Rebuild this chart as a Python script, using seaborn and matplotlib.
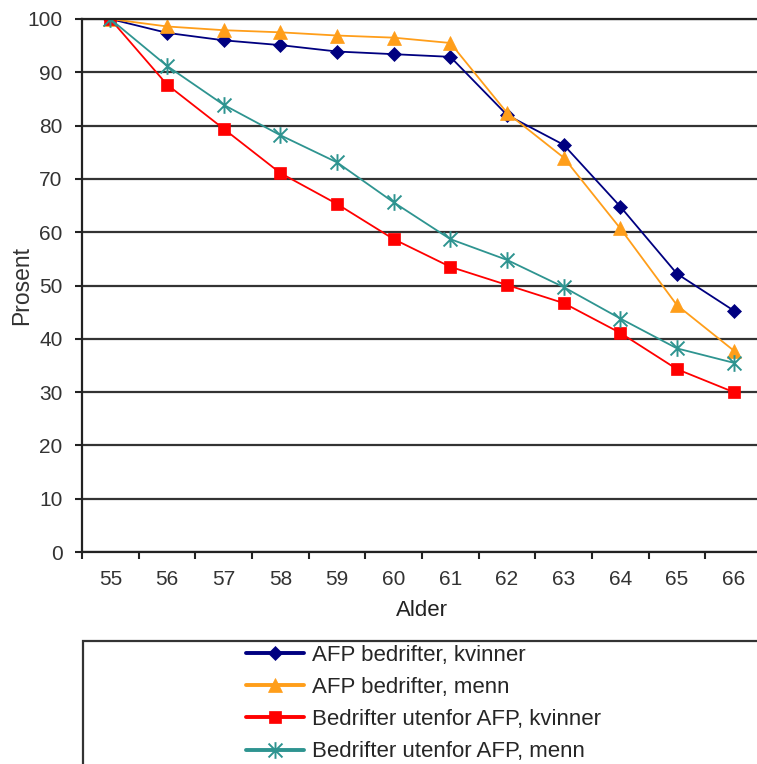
import numpy as np
import matplotlib
matplotlib.use("Agg")
import matplotlib.pyplot as plt
from matplotlib.path import Path
from matplotlib.patches import Rectangle
import seaborn as sns

alder = [55, 56, 57, 58, 59, 60, 61, 62, 63, 64, 65, 66]

afp_kvinner = [100, 97.4, 96.0, 95.1, 93.9, 93.4, 92.9, 82.0, 76.4, 64.8, 52.2, 45.3]
afp_menn = [100, 98.6, 97.9, 97.5, 96.9, 96.5, 95.5, 82.4, 74.0, 60.7, 46.3, 37.8]
utenfor_kvinner = [100, 87.7, 79.4, 71.1, 65.3, 58.7, 53.5, 50.1, 46.7, 41.1, 34.3, 30.0]
utenfor_menn = [100, 91.2, 83.9, 78.2, 73.1, 65.6, 58.7, 54.8, 49.7, 43.8, 38.2, 35.5]

labels = ["AFP bedrifter, kvinner", "AFP bedrifter, menn",
          "Bedrifter utenfor AFP, kvinner", "Bedrifter utenfor AFP, menn"]
series = [afp_kvinner, afp_menn, utenfor_kvinner, utenfor_menn]
colors = ["#000080", "#FF9E1A", "#FF0000", "#2E9490"]

# excel style star: an X with a vertical bar
star = Path([(-1, -1), (1, 1), (-1, 1), (1, -1), (0, -1.2), (0, 1.2)],
            [Path.MOVETO, Path.LINETO, Path.MOVETO, Path.LINETO, Path.MOVETO, Path.LINETO])
markers = ["D", "^", "s", star]
msizes = [7.5, 9.5, 8.5, 12]
mews = [0.5, 0.5, 0.5, 1.4]

sns.set_style("white")
plt.rcParams["font.family"] = ["Liberation Sans", "DejaVu Sans"]

W, H = 757, 764
fig = plt.figure(figsize=(W / 100, H / 100), dpi=100)
ax = fig.add_axes([82 / W, (H - 552) / H, (762 - 82) / W, (552 - 19) / H])

for vals, lab, c, m, ms, mew in zip(series, labels, colors, markers, msizes, mews):
    sns.lineplot(x=alder, y=vals, color=c, marker=m, markersize=ms,
                 markeredgecolor=c, markeredgewidth=mew, linewidth=1.3,
                 label=lab, ax=ax, legend=False)

ax.set_xlim(54.5, 66.5)
ax.set_ylim(0, 100)
ax.set_xticks(alder)
ax.set_xticks(np.arange(54.5, 66.6, 1), minor=True)
ax.set_yticks(range(0, 101, 10))
ax.tick_params(axis="x", which="major", length=0, pad=13, labelsize=15, labelcolor="#333333")
ax.tick_params(axis="x", which="minor", length=5, width=1.5, color="#222222", direction="out", bottom=True)
ax.tick_params(axis="y", length=5, width=1.5, color="#222222", direction="out", left=True,
               pad=9, labelsize=15, labelcolor="#333333")

ax.yaxis.grid(True, color="#333333", linewidth=1.6)
ax.set_axisbelow(True)
for side in ["left", "bottom", "top"]:
    ax.spines[side].set_visible(True)
    ax.spines[side].set_color("#222222")
    ax.spines[side].set_linewidth(1.6)
ax.spines["right"].set_visible(False)

ax.set_xlabel("Alder", fontsize=16, color="#222222")
ax.set_ylabel("Prosent", fontsize=16.5, color="#333333")
ax.xaxis.set_label_coords(0.5, -0.09)
ax.yaxis.set_label_coords(-0.072, 0.5)

# legend box, cut off at the figure edge like the source
fig.add_artist(Rectangle((83 / W, -0.1), 1.0, 0.1 + (H - 641) / H, transform=fig.transFigure,
                         fill=False, edgecolor="#333333", linewidth=1.6, clip_on=False))
handles, labs = ax.get_legend_handles_labels()
leg = fig.legend(handles, labs, loc="upper left", bbox_to_anchor=(246 / W, (H - 645) / H),
                 frameon=False, fontsize=16, borderpad=0, borderaxespad=0,
                 labelspacing=0.5, handlelength=2.6, handletextpad=0.35)
for h in leg.legend_handles:
    h.set_linewidth(2.8)

fig.savefig("out.png", dpi=100)
